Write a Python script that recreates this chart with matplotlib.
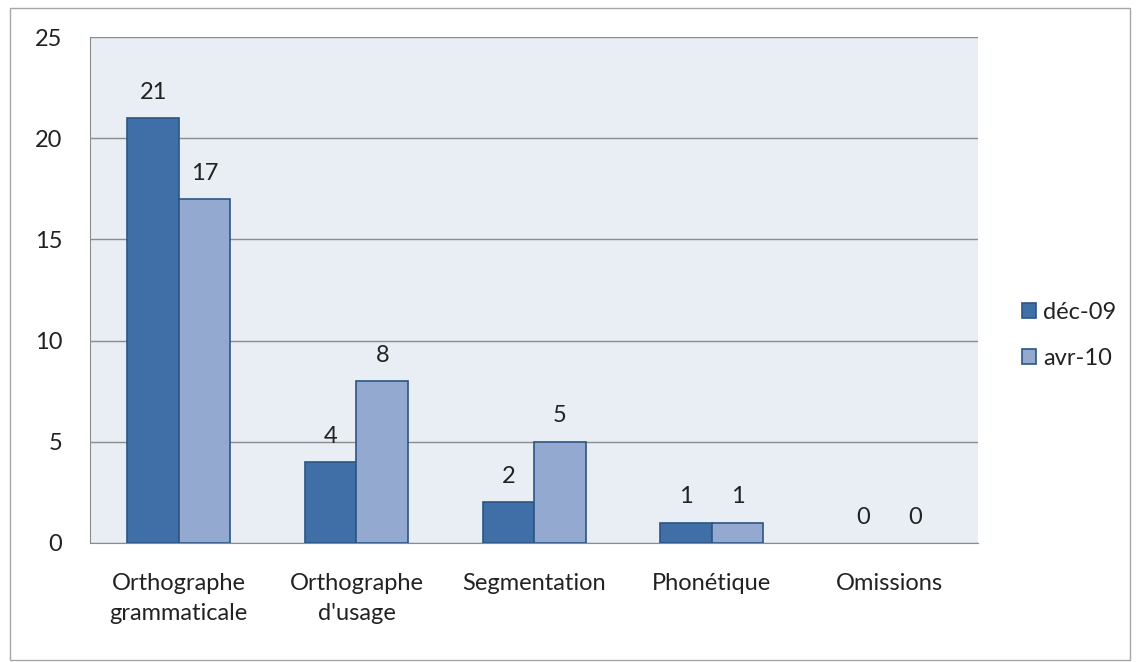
import matplotlib.pyplot as plt
from matplotlib.patches import Rectangle
import numpy as np

categories = ['Orthographe\ngrammaticale', "Orthographe\nd'usage", 'Segmentation',
              'Phonétique', 'Omissions']
series_names = ['déc-09', 'avr-10']
dec09 = [21, 4, 2, 1, 0]
avr10 = [17, 8, 5, 1, 0]

colors = ['#3F6FA6', '#93A9CF']
edges = ['#2C5585', '#2C5585']


def plot_figure():
    plt.rcParams['font.family'] = ['Lato', 'DejaVu Sans']
    fig = plt.figure(figsize=(11.4, 6.62), dpi=100)
    fig.patches.append(Rectangle((0.009, 0.003), 0.982, 0.985, transform=fig.transFigure,
                                 fill=False, edgecolor='#A6A6A6', linewidth=1))
    ax = fig.add_axes([0.079, 0.18, 0.779, 0.764])
    ax.set_facecolor('#E9EDF4')
    x = np.arange(len(categories))
    w = 0.29
    fs = 17
    for i, (vals, name) in enumerate(zip([dec09, avr10], series_names)):
        pos = x - w / 2 + i * w
        lw = [1.2 if v > 0 else 0 for v in vals]
        bars = ax.bar(pos, vals, width=w, color=colors[i], edgecolor=edges[i],
                      linewidth=lw, label=name, zorder=3)
        for b, v in zip(bars, vals):
            ax.annotate(str(v), (b.get_x() + b.get_width() / 2, v),
                        xytext=(0, 11), textcoords='offset points',
                        ha='center', va='bottom', fontsize=fs, color='#222222')
    ax.set_xlim(-0.5, len(categories) - 0.5)
    ax.set_ylim(0, 25)
    ax.set_yticks(range(0, 26, 5))
    ax.set_xticks(x)
    ax.set_xticklabels(categories, fontsize=fs, linespacing=1.5, color='#222222')
    ax.tick_params(axis='y', labelsize=fs, labelcolor='#222222', length=0, pad=20)
    ax.tick_params(axis='x', length=0, pad=22)
    ax.yaxis.grid(True, color='#8C8C8C', linewidth=1, zorder=0)
    ax.set_axisbelow(True)
    for s in ['top', 'right']:
        ax.spines[s].set_visible(False)
    ax.spines['left'].set_color('#8C8C8C')
    ax.spines['bottom'].set_color('#8C8C8C')
    ax.legend(loc='center left', bbox_to_anchor=(1.025, 0.41), frameon=False,
              fontsize=fs, handlelength=0.6, handleheight=0.6, handletextpad=0.3,
              labelspacing=1.05, labelcolor='#222222')
    plt.savefig('out.png')


if __name__ == '__main__':
    plot_figure()
